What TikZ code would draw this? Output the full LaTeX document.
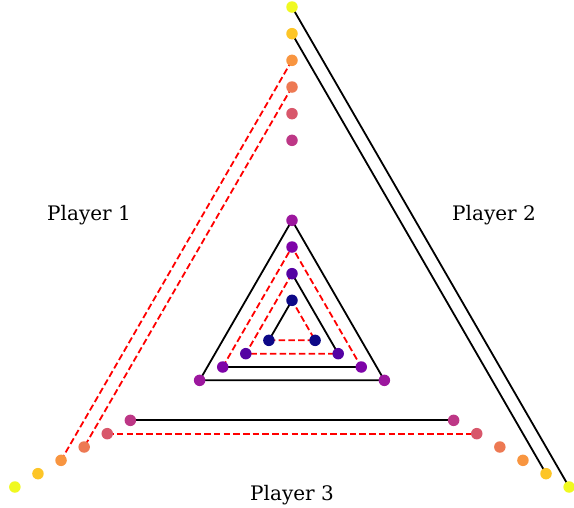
\documentclass[tikz,border=0pt]{standalone}
\usepackage{fontspec}
\setmainfont{DejaVu Serif}
\pgfdeclarelayer{bg}
\pgfsetlayers{bg,main}
\definecolor{c0}{HTML}{F0F921}
\definecolor{c1}{HTML}{FDC527}
\definecolor{c2}{HTML}{F89540}
\definecolor{c3}{HTML}{ED7953}
\definecolor{c4}{HTML}{D8576B}
\definecolor{c5}{HTML}{BD3786}
\definecolor{c6}{HTML}{9C179E}
\definecolor{c7}{HTML}{7E03A8}
\definecolor{c8}{HTML}{5402A3}
\definecolor{c9}{HTML}{0D0887}
\begin{document}
\begin{tikzpicture}[x=1pt,y=-1pt,
  dot/.style={circle,inner sep=0pt,minimum size=11.5pt,draw=none},
  solidline/.style={draw=black,line width=1.8pt},
  dashline/.style={draw=red,line width=1.8pt,dash pattern=on 6.5pt off 3.2pt},
  plabel/.style={font=\fontsize{20}{24}\selectfont,inner sep=0pt}]
\useasboundingbox (0,0) rectangle (574,507);
\foreach \i/\k in {0/0,1/1,2/2,3/3,4/4,5/5,6/8,7/9,8/10,9/11} {
  \pgfmathsetmacro\f{1-\k/12}
  \pgfmathsetmacro\ty{327-320*\f}
  \pgfmathsetmacro\by{327+160*\f}
  \pgfmathsetmacro\lx{292-277.13*\f}
  \pgfmathsetmacro\rx{292+277.13*\f}
  \node[dot,fill=c\i] (T\i) at (292,\ty) {};
  \node[dot,fill=c\i] (L\i) at (\lx,\by) {};
  \node[dot,fill=c\i] (R\i) at (\rx,\by) {};
}
\begin{pgfonlayer}{bg}
\draw[solidline] (T0.center) -- (R0.center);
\draw[solidline] (T1.center) -- (R1.center);
\draw[dashline] (T2.center) -- (L2.center);
\draw[dashline] (T3.center) -- (L3.center);
\draw[dashline] (L4.center) -- (R4.center);
\draw[solidline] (L5.center) -- (R5.center);
\draw[solidline] (T6.center) -- (L6.center) -- (R6.center) -- cycle;
\draw[dashline] (L7.center) -- (T7.center) -- (R7.center);
\draw[solidline] (L7.center) -- (R7.center);
\draw[dashline] (T8.center) -- (L8.center) -- (R8.center);
\draw[solidline] (T8.center) -- (R8.center);
\draw[solidline] (T9.center) -- (L9.center);
\draw[dashline] (L9.center) -- (R9.center) -- (T9.center);
\end{pgfonlayer}
\node[plabel] (p1) at (89,215.5) {Player 1};
\node[plabel] (p2) at (494,215.5) {Player 2};
\node[plabel] (p3) at (292,495.5) {Player 3};
\end{tikzpicture}
\end{document}
